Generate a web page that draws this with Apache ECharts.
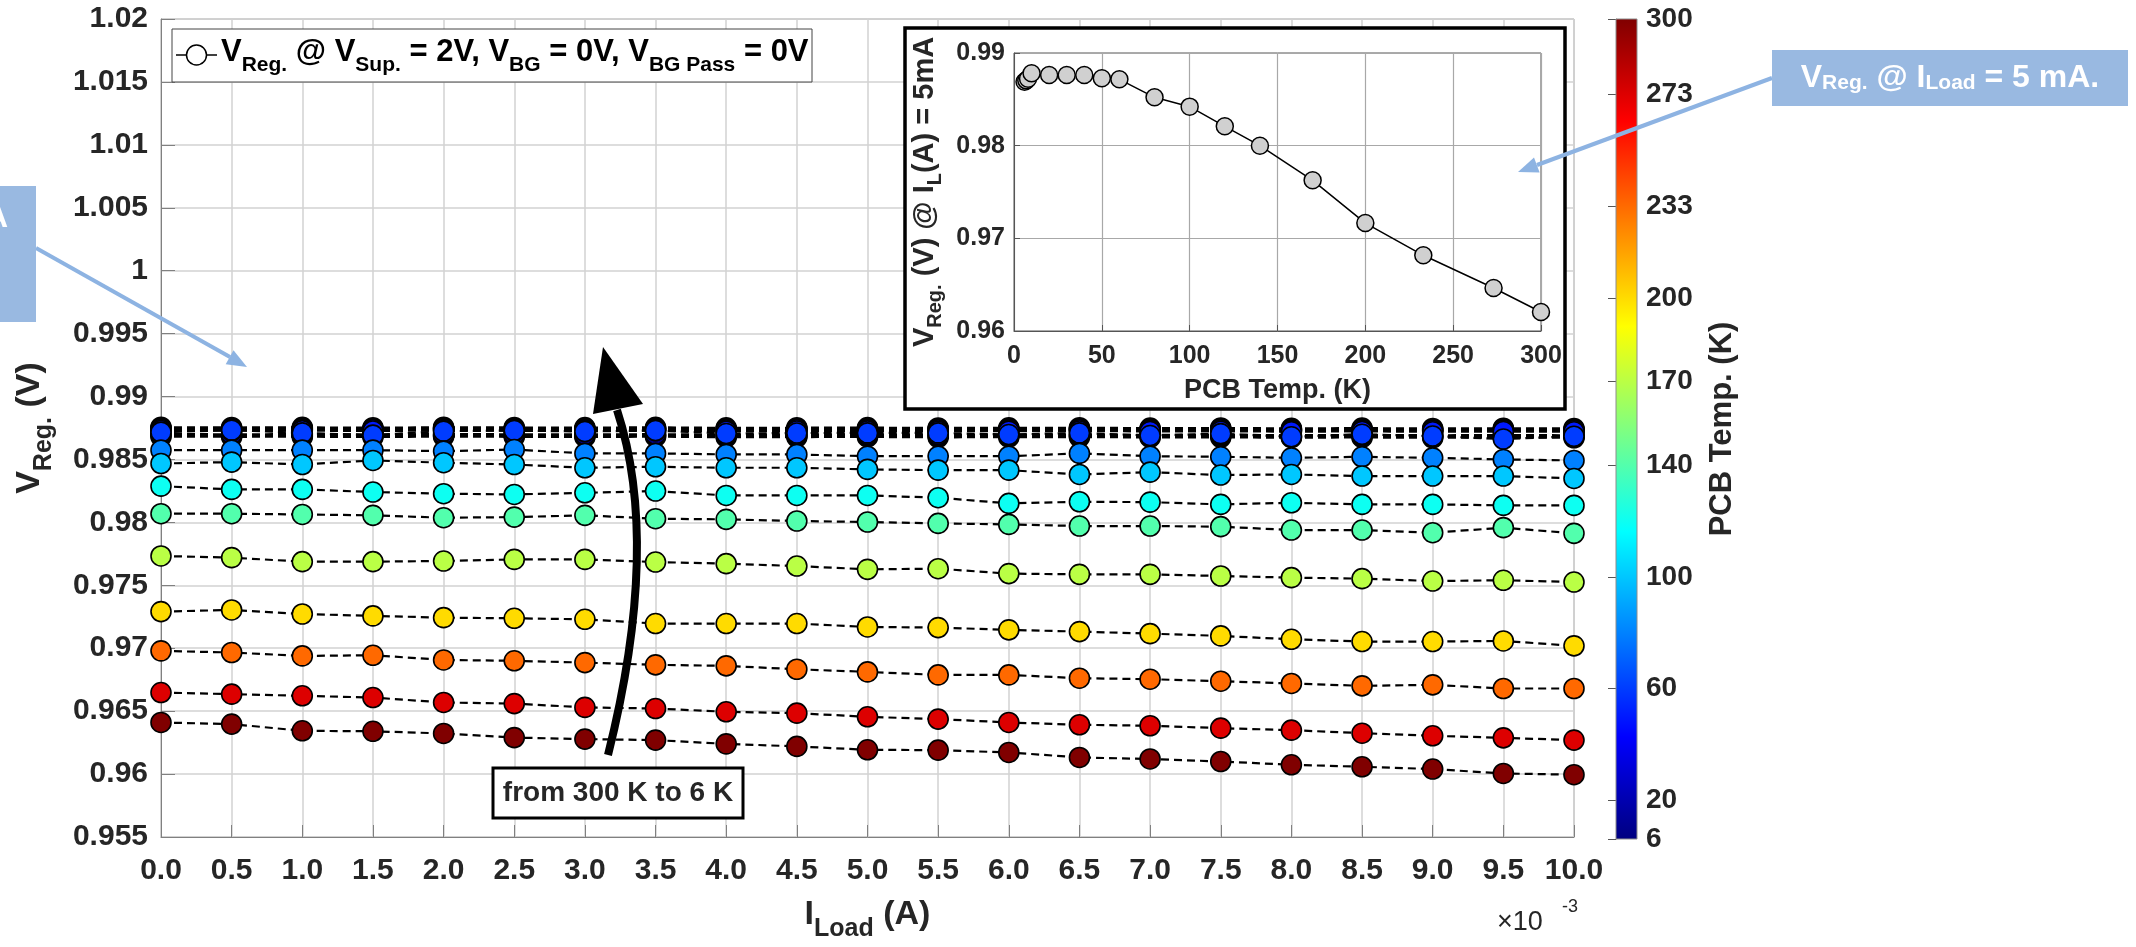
<!DOCTYPE html>
<html><head><meta charset="utf-8">
<script src="https://cdn.jsdelivr.net/npm/echarts@6/dist/echarts.min.js"></script>
<style>html,body{margin:0;padding:0;background:#fff}#c{width:2136px;height:947px}</style>
</head><body><div id="c"></div>
<script>
// ---------------- DATA ----------------
const loadCurrentA = [0, 0.0005, 0.001, 0.0015, 0.002, 0.0025, 0.003, 0.0035, 0.004, 0.0045, 0.005,
  0.0055, 0.006, 0.0065, 0.007, 0.0075, 0.008, 0.0085, 0.009, 0.0095, 0.01];
const temps = [6, 7, 8, 10, 20, 30, 40, 50, 60, 80, 100, 120, 140, 170, 200, 233, 273, 300];

const v6   = [0.98682,0.98680,0.98681,0.98678,0.98682,0.98680,0.98679,0.98681,0.98677,0.98678,0.98679,0.98676,0.98677,0.98678,0.98675,0.98676,0.98673,0.98675,0.98672,0.98674,0.98672];
const v7   = [0.98692,0.98690,0.98691,0.98688,0.98692,0.98690,0.98689,0.98691,0.98687,0.98688,0.98689,0.98686,0.98687,0.98688,0.98685,0.98686,0.98683,0.98685,0.98682,0.98684,0.98682];
const v8   = [0.98702,0.98700,0.98701,0.98698,0.98702,0.98700,0.98699,0.98701,0.98697,0.98698,0.98699,0.98696,0.98697,0.98698,0.98695,0.98696,0.98693,0.98695,0.98692,0.98694,0.98692];
const v10  = [0.98756,0.98754,0.98755,0.98752,0.98756,0.98754,0.98753,0.98755,0.98751,0.98752,0.98753,0.98750,0.98751,0.98752,0.98749,0.98750,0.98747,0.98749,0.98746,0.98748,0.98746];
const v20  = [0.98748,0.98746,0.98747,0.98744,0.98748,0.98746,0.98745,0.98747,0.98743,0.98744,0.98745,0.98742,0.98743,0.98744,0.98741,0.98742,0.98739,0.98741,0.98738,0.98740,0.98738];
const v30  = [0.98744,0.98742,0.98743,0.98740,0.98744,0.98742,0.98741,0.98743,0.98739,0.98740,0.98741,0.98738,0.98739,0.98740,0.98737,0.98738,0.98735,0.98737,0.98734,0.98736,0.98734];
const v40  = [0.98740,0.98738,0.98739,0.98736,0.98740,0.98738,0.98737,0.98739,0.98735,0.98736,0.98737,0.98734,0.98735,0.98736,0.98733,0.98734,0.98731,0.98733,0.98730,0.98732,0.98730];
const v50  = [0.98730,0.98728,0.98729,0.98726,0.98730,0.98728,0.98727,0.98729,0.98725,0.98726,0.98727,0.98724,0.98725,0.98726,0.98723,0.98724,0.98721,0.98723,0.98720,0.98722,0.98720];
const v60  = [0.98717,0.98733,0.98711,0.98693,0.98725,0.98730,0.98722,0.98730,0.98706,0.98710,0.98711,0.98711,0.98698,0.98711,0.98690,0.98705,0.98680,0.98700,0.98686,0.98662,0.98685];
const v80  = [0.98574,0.98574,0.98574,0.98574,0.98566,0.98579,0.98548,0.98548,0.98540,0.98540,0.98526,0.98526,0.98526,0.98548,0.98526,0.98521,0.98513,0.98521,0.98513,0.98500,0.98492];
const v100 = [0.98468,0.98479,0.98460,0.98492,0.98474,0.98460,0.98434,0.98442,0.98434,0.98434,0.98421,0.98415,0.98415,0.98381,0.98399,0.98376,0.98381,0.98368,0.98368,0.98368,0.98349];
const v120 = [0.98288,0.98262,0.98262,0.98241,0.98228,0.98222,0.98235,0.98249,0.98214,0.98214,0.98214,0.98196,0.98151,0.98164,0.98161,0.98143,0.98156,0.98143,0.98143,0.98135,0.98135];
const v140 = [0.98069,0.98069,0.98063,0.98056,0.98037,0.98042,0.98056,0.98029,0.98024,0.98011,0.98003,0.97992,0.97984,0.97971,0.97971,0.97966,0.97939,0.97939,0.97918,0.97958,0.97913];
const v170 = [0.97733,0.97720,0.97688,0.97688,0.97693,0.97706,0.97706,0.97685,0.97672,0.97653,0.97627,0.97632,0.97593,0.97587,0.97587,0.97574,0.97561,0.97553,0.97534,0.97540,0.97526];
const v200 = [0.97291,0.97304,0.97272,0.97257,0.97243,0.97238,0.97230,0.97196,0.97196,0.97196,0.97169,0.97164,0.97146,0.97132,0.97116,0.97098,0.97071,0.97053,0.97053,0.97058,0.97019];
const v233 = [0.96979,0.96966,0.96939,0.96944,0.96907,0.96900,0.96886,0.96868,0.96860,0.96833,0.96812,0.96788,0.96788,0.96762,0.96754,0.96738,0.96720,0.96701,0.96709,0.96680,0.96680];
const v273 = [0.96648,0.96635,0.96622,0.96608,0.96569,0.96560,0.96530,0.96521,0.96495,0.96484,0.96455,0.96437,0.96410,0.96392,0.96384,0.96365,0.96349,0.96325,0.96304,0.96288,0.96270];
const v300 = [0.96410,0.96397,0.96344,0.96340,0.96323,0.96290,0.96278,0.96270,0.96240,0.96220,0.96193,0.96190,0.96172,0.96132,0.96120,0.96100,0.96074,0.96058,0.96040,0.96005,0.95995];
const valuesByTemp = [v6, v7, v8, v10, v20, v30, v40, v50, v60, v80, v100, v120, v140, v170, v200, v233, v273, v300];

// inset: V_Reg at I_L = 5 mA vs PCB temperature
const insetTemps  = [6, 7, 8, 10, 20, 30, 40, 50, 60, 80, 100, 120, 140, 170, 200, 233, 273, 300];
const insetValues = [0.98690, 0.98705, 0.98722, 0.98781, 0.98763, 0.98763, 0.98763, 0.98727, 0.98716,
  0.98522, 0.98421, 0.98209, 0.98000, 0.97626, 0.97165, 0.96817, 0.96464, 0.96205];

// colour bar
const colorbarRange = [6, 300];
const colorbarTicks = [6, 20, 60, 100, 140, 170, 200, 233, 273, 300];

// ---------------- STYLE HELPERS ----------------
const FONT = 'Liberation Sans, Arial, Helvetica, sans-serif';
const TXT = '#262626';
function jet(T) {
  const t = (T - colorbarRange[0]) / (colorbarRange[1] - colorbarRange[0]);
  const c = v => Math.max(0, Math.min(1, v));
  const r = c(Math.min(4 * t - 1.5, -4 * t + 4.5));
  const g = c(Math.min(4 * t - 0.5, -4 * t + 3.5));
  const b = c(Math.min(4 * t + 0.5, -4 * t + 2.5));
  return 'rgb(' + Math.round(r * 255) + ',' + Math.round(g * 255) + ',' + Math.round(b * 255) + ')';
}
const cbStops = [];
for (let i = 0; i <= 32; i++) {
  const f = i / 32;
  cbStops.push({ offset: f, color: jet(colorbarRange[1] - f * (colorbarRange[1] - colorbarRange[0])) });
}

const chart = echarts.init(document.getElementById('c'), null, { renderer: 'canvas' });

const mainSeries = temps.map((T, k) => ({
  type: 'line', name: T + ' K', xAxisIndex: 0, yAxisIndex: 0, z: 2, silent: true,
  data: loadCurrentA.map((x, i) => [x, valuesByTemp[k][i]]),
  symbol: 'circle', symbolSize: 20,
  itemStyle: { color: jet(T), borderColor: '#000', borderWidth: 1.6 },
  lineStyle: { color: '#000', width: 2.2, type: [8, 5] }
}));

const subRich = (m, s, L) => ({
  m: { fontSize: m, fontWeight: 'bold', fontFamily: FONT, color: TXT, lineHeight: L, verticalAlign: 'middle' },
  s: { fontSize: s, fontWeight: 'bold', fontFamily: FONT, color: TXT, lineHeight: s, verticalAlign: 'bottom' }
});

const option = {
  animation: false,
  backgroundColor: '#fff',
  grid: [
    { left: 161, top: 19, width: 1413, height: 819, show: true, borderColor: '#9a9a9a', borderWidth: 1 },
    { left: 1014, top: 53, width: 527, height: 278, show: true, borderColor: '#555', borderWidth: 1, z: 4 },
    { left: 1616, top: 19, width: 21, height: 820 }
  ],
  xAxis: [
    { type: 'value', gridIndex: 0, min: 0, max: 0.01, interval: 0.0005,
      axisLine: { lineStyle: { color: '#808080', width: 1 } },
      axisTick: { inside: true, length: 12, lineStyle: { color: '#808080' } },
      splitLine: { show: true, lineStyle: { color: '#d2d2d2', width: 1.5 } },
      axisLabel: { formatter: v => (v * 1000).toFixed(1), fontSize: 30, fontWeight: 'bold', fontFamily: FONT, color: TXT, margin: 19 },
      name: '{m|I}{s|Load}{m| (A)}', nameLocation: 'middle', nameGap: 51,
      nameTextStyle: { rich: subRich(34, 25, 54) } },
    { type: 'value', gridIndex: 1, min: 0, max: 300, interval: 50, z: 4,
      axisLine: { lineStyle: { color: '#555' } },
      axisTick: { inside: true, length: 6, lineStyle: { color: '#555' } },
      splitLine: { show: true, lineStyle: { color: '#a8a8a8', width: 1.2 } },
      axisLabel: { fontSize: 25, fontWeight: 'bold', fontFamily: FONT, color: TXT, margin: 13 },
      name: 'PCB Temp. (K)', nameLocation: 'middle', nameGap: 46,
      nameTextStyle: { fontSize: 27, fontWeight: 'bold', fontFamily: FONT, color: TXT, lineHeight: 28 } },
    { type: 'value', gridIndex: 2, min: 0, max: 1, show: false }
  ],
  yAxis: [
    { type: 'value', gridIndex: 0, min: 0.955, max: 1.02, interval: 0.005,
      axisLine: { show: true, lineStyle: { color: '#808080', width: 1 } },
      axisTick: { show: true, inside: true, length: 14, lineStyle: { color: '#808080' } },
      splitLine: { show: true, lineStyle: { color: '#d2d2d2', width: 1.5 } },
      axisLabel: { formatter: v => String(parseFloat(v.toFixed(3))), fontSize: 30, fontWeight: 'bold', fontFamily: FONT, color: TXT, margin: 13 },
      name: '{m|V}{s|Reg.}{m| (V)}', nameLocation: 'middle', nameGap: 104, nameRotate: 90,
      nameTextStyle: { rich: subRich(34, 25, 54) } },
    { type: 'value', gridIndex: 1, min: 0.96, max: 0.99, interval: 0.01, z: 4,
      axisLine: { show: true, lineStyle: { color: '#555' } },
      axisTick: { show: true, inside: true, length: 6, lineStyle: { color: '#555' } },
      splitLine: { show: true, lineStyle: { color: '#a8a8a8', width: 1.2 } },
      axisLabel: { formatter: v => v.toFixed(2), fontSize: 25, fontWeight: 'bold', fontFamily: FONT, color: TXT, margin: 9 },
      name: '{m|V}{s|Reg.}{m| (V) @ I}{s|L}{m|(A) = 5mA}', nameLocation: 'middle', nameGap: 69, nameRotate: 90,
      nameTextStyle: { rich: subRich(29, 20, 40) } },
    { type: 'value', gridIndex: 2, min: colorbarRange[0], max: colorbarRange[1], position: 'right',
      axisLine: { show: true, lineStyle: { color: '#8c8c8c' } },
      axisTick: { show: true, inside: true, length: 8, customValues: colorbarTicks, lineStyle: { color: '#555' } },
      splitLine: { show: false },
      axisLabel: { customValues: colorbarTicks, fontSize: 28, fontWeight: 'bold', fontFamily: FONT, color: TXT, margin: 9 },
      name: 'PCB Temp. (K)', nameLocation: 'middle', nameGap: 68, nameRotate: 90,
      nameTextStyle: { fontSize: 31, fontWeight: 'bold', fontFamily: FONT, color: TXT, lineHeight: 34 } }
  ],
  series: mainSeries.concat([
    { type: 'line', xAxisIndex: 1, yAxisIndex: 1, z: 5, silent: true,
      data: insetTemps.map((t, i) => [t, insetValues[i]]),
      symbol: 'circle', symbolSize: 17,
      itemStyle: { color: '#d0d0d0', borderColor: '#000', borderWidth: 1.5 },
      lineStyle: { color: '#000', width: 1.5 } },
    { type: 'custom', xAxisIndex: 2, yAxisIndex: 2, silent: true,
      data: [[0, colorbarRange[0], colorbarRange[1]]],
      encode: { x: 0, y: [1, 2] },
      renderItem: (params, api) => {
        const pLow = api.coord([0, api.value(1)]);
        const pHigh = api.coord([1, api.value(2)]);
        return { type: 'rect',
          shape: { x: pLow[0], y: pHigh[1], width: pHigh[0] - pLow[0], height: pLow[1] - pHigh[1] },
          style: { fill: { type: 'linear', x: 0, y: 0, x2: 0, y2: 1, colorStops: cbStops }, stroke: '#8c8c8c', lineWidth: 1 } };
      } }
  ]),
  graphic: [
    // inset frame
    { type: 'rect', z: 3, shape: { x: 905, y: 28, width: 660, height: 381 }, style: { fill: '#fff', stroke: '#000', lineWidth: 3.5 } },
    // legend
    { type: 'rect', z: 3, shape: { x: 172, y: 29, width: 640, height: 53 }, style: { fill: '#fff', stroke: '#444', lineWidth: 1 } },
    { type: 'line', z: 3, shape: { x1: 176, y1: 55, x2: 217, y2: 55 }, style: { stroke: '#000', lineWidth: 1.5 } },
    { type: 'circle', z: 3, shape: { cx: 196.5, cy: 55, r: 10 }, style: { fill: '#fff', stroke: '#000', lineWidth: 1.5 } },
    { type: 'text', z: 3, x: 221, y: 52,
      style: { text: '{m|V}{s|Reg.}{m| @ V}{s|Sup.}{m| = 2V, V}{s|BG}{m| = 0V, V}{s|BG Pass}{m| = 0V}',
        verticalAlign: 'middle', align: 'left',
        rich: {
          m: { fontSize: 31, fontWeight: 'bold', fontFamily: FONT, fill: '#000', lineHeight: 48, verticalAlign: 'middle' },
          s: { fontSize: 21, fontWeight: 'bold', fontFamily: FONT, fill: '#000', lineHeight: 21, verticalAlign: 'bottom' } } } },
    // x10^-3
    { type: 'text', z: 3, x: 1497, y: 923, style: { text: '\u00d710', fontSize: 27, fontFamily: FONT, fill: TXT, verticalAlign: 'middle', align: 'left' } },
    { type: 'text', z: 3, x: 1562, y: 907, style: { text: '-3', fontSize: 18, fontFamily: FONT, fill: TXT, verticalAlign: 'middle', align: 'left' } },
    // right annotation
    { type: 'line', z: 10, shape: { x1: 1772, y1: 78, x2: 1537, y2: 165 }, style: { stroke: '#8DB3E2', lineWidth: 4 } },
    { type: 'polygon', z: 10, shape: { points: [[1518, 172], [1539.6, 172.6], [1534.0, 157.6]] }, style: { fill: '#8DB3E2' } },
    { type: 'rect', z: 10, shape: { x: 1772, y: 50, width: 356, height: 56 }, style: { fill: '#99B9E1' } },
    { type: 'text', z: 11, x: 1950, y: 78,
      style: { text: '{b|V}{s|Reg.}{b| @ I}{s|Load}{b| = 5 mA.}', align: 'center', verticalAlign: 'middle',
        rich: {
          b: { fontSize: 32, fontWeight: 'bold', fontFamily: FONT, fill: '#fff', lineHeight: 32, verticalAlign: 'bottom' },
          s: { fontSize: 21, fontWeight: 'bold', fontFamily: FONT, fill: '#fff', lineHeight: 21, verticalAlign: 'bottom' } } } },
    // left annotation (cut by the figure edge)
    { type: 'line', z: 10, shape: { x1: 36, y1: 248, x2: 230, y2: 357 }, style: { stroke: '#8DB3E2', lineWidth: 4 } },
    { type: 'polygon', z: 10, shape: { points: [[247, 367], [225.7, 364.2], [233.5, 350.2]] }, style: { fill: '#8DB3E2' } },
    { type: 'rect', z: 10, shape: { x: -10, y: 186, width: 46, height: 136 }, style: { fill: '#99B9E1' } },
    { type: 'text', z: 11, x: 8, y: 218, style: { text: '0 mA', align: 'right', verticalAlign: 'middle', fontSize: 32, fontWeight: 'bold', fontFamily: FONT, fill: '#fff' } },
    // temperature arrow
    { type: 'bezierCurve', z: 10, shape: { x1: 608, y1: 755, x2: 617, y2: 410, cpx1: 661, cpy1: 544 }, style: { stroke: '#000', lineWidth: 8, fill: null } },
    { type: 'polygon', z: 10, shape: { points: [[603, 347], [593, 414], [643, 404]] }, style: { fill: '#000' } },
    { type: 'rect', z: 10, shape: { x: 493, y: 768, width: 250, height: 50 }, style: { fill: '#fff', stroke: '#000', lineWidth: 3 } },
    { type: 'text', z: 11, x: 618, y: 793, style: { text: 'from 300 K to 6 K', align: 'center', verticalAlign: 'middle', fontSize: 28, fontWeight: 'bold', fontFamily: FONT, fill: TXT } }
  ]
};
chart.setOption(option);
</script></body></html>
